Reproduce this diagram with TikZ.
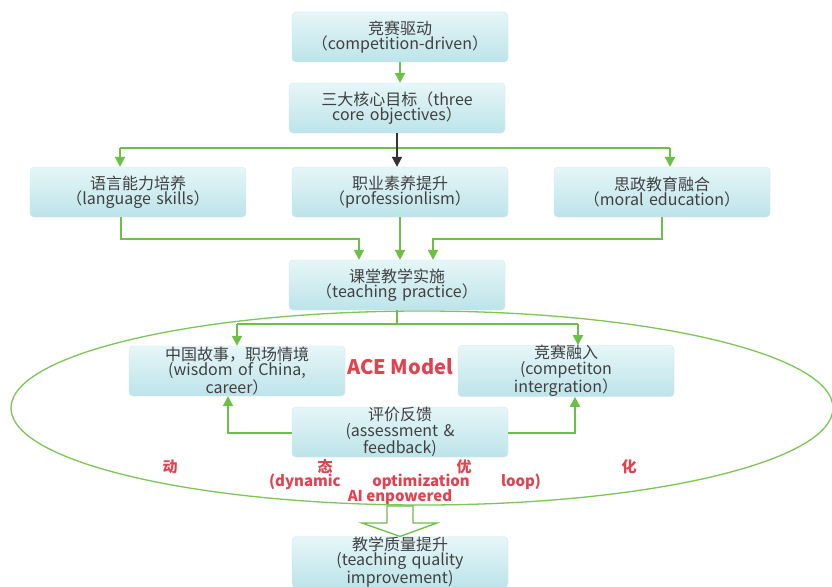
\documentclass[tikz,border=0pt]{standalone}
\usepackage{fontspec}
\setmainfont{Noto Sans CJK SC}
\usetikzlibrary{arrows.meta,calc}
\definecolor{boxtop}{HTML}{E6F6F8}
\definecolor{boxbot}{HTML}{BCE4E9}
\definecolor{txt}{HTML}{404040}
\definecolor{grn}{HTML}{6DC046}
\definecolor{ell}{HTML}{7CC655}
\definecolor{redt}{HTML}{E2424F}
\tikzset{
  box/.style={rounded corners=4pt, top color=boxtop, bottom color=boxbot, draw=boxbot!80!white, line width=0.3pt,
    minimum width=216pt, minimum height=50pt, text width=210pt, align=center, text=txt,
    font=\fontsize{16}{15.5}\selectfont, inner sep=0pt},
  gline/.style={draw=grn, line width=1.8pt},
  garrow/.style={gline, -{Triangle[length=10pt,width=10pt]}},
  barrow/.style={draw=black!80, line width=1.8pt, -{Triangle[length=10pt,width=10pt]}},
  redtxt/.style={text=redt, font=\fontsize{15}{16}\selectfont\bfseries, inner sep=0pt}
}
\begin{document}
\begin{tikzpicture}[x=1pt,y=-1pt]
\useasboundingbox (0,0) rectangle (832,586);
\clip (0,0) rectangle (832,586);
\fill[white] (0,0) rectangle (832,586);

% ellipse
\draw[ell, line width=1.3pt] (422,408) ellipse [x radius=411, y radius=97];

% nodes
\node[box] (b1) at (400,37) {竞赛驱动\\（competition-driven）};
\node[box] (b2) at (397,108) {三大核心目标（three\\core objectives）};
\node[box] (b3) at (138,192) {语言能力培养\\（language skills）};
\node[box] (b4) at (400,192) {职业素养提升\\（professionlism）};
\node[box] (b5) at (662,192) {思政教育融合\\（moral education）};
\node[box] (b6) at (397,285) {课堂教学实施\\（teaching practice）};
\node[box] (b7) at (237,371) {中国故事，职场情境\\ (wisdom of China,\\career）};
\node[box] (b8) at (566,371) {竞赛融入\\ (competiton\\intergration）};
\node[box] (b9) at (400,432) {评价反馈\\(assessment \&\\feedback)};
\node[box] (b10) at (400,562) {教学质量提升\\(teaching quality\\improvement)};

% labels
\node[text=redt, font=\fontsize{20}{21}\selectfont\bfseries, inner sep=0pt] (ace) at (400,367) {ACE Model};
\node[redtxt] (r1) at (170,467) {动};
\node[redtxt] (r2) at (325,467) {态};
\node[redtxt] (r3) at (464,467) {优};
\node[redtxt] (r4) at (629,467) {化};
\node[redtxt] (r5) at (305,482) {(dynamic};
\node[redtxt] (r6) at (421,482) {optimization};
\node[redtxt] (r7) at (521,482) {loop)};
\node[redtxt] (r8) at (400,497) {AI enpowered};

% connectors
\draw[garrow] (b1.south) -- (b1.south |- b2.north);
\coordinate (hL) at (120,148);
\coordinate (hR) at (670,148);
\draw[gline] (hL) -- (hR);
\draw[garrow] (hL) -- (hL |- b3.north);
\draw[garrow] (hR) -- (hR |- b5.north);
\draw[barrow] (b2.south) -- (b2.south |- b4.north);

\coordinate (c3) at (121,239);
\coordinate (c3e) at (359,239);
\draw[garrow] (c3 |- b3.south) -- (c3) -- (c3e) -- (c3e |- b6.north);
\draw[garrow] (b4.south) -- (b4.south |- b6.north);
\coordinate (c5) at (662,239);
\coordinate (c5e) at (433,239);
\draw[garrow] (c5 |- b5.south) -- (c5) -- (c5e) -- (c5e |- b6.north);

\coordinate (s6) at (397,324);
\coordinate (s7) at (237,324);
\coordinate (s8) at (578,324);
\draw[gline] (b6.south) -- (s6);
\draw[gline] (s7) -- (s8);
\draw[garrow] (s7) -- (s7 |- b7.north);
\draw[garrow] (s8) -- (s8 |- b8.north);

\coordinate (f7) at (228,433);
\coordinate (f8) at (575,433);
\draw[garrow] (b9.west |- f7) -- (f7) -- (f7 |- b7.south);
\draw[garrow] (b9.east |- f8) -- (f8) -- (f8 |- b8.south);

% hollow arrow
\draw[grn, line width=1.3pt, fill=white] (387,506) -- (413,506) -- (413,523) -- (437,523) -- (b10.north) -- (362,523) -- (387,523) -- cycle;
\end{tikzpicture}
\end{document}
